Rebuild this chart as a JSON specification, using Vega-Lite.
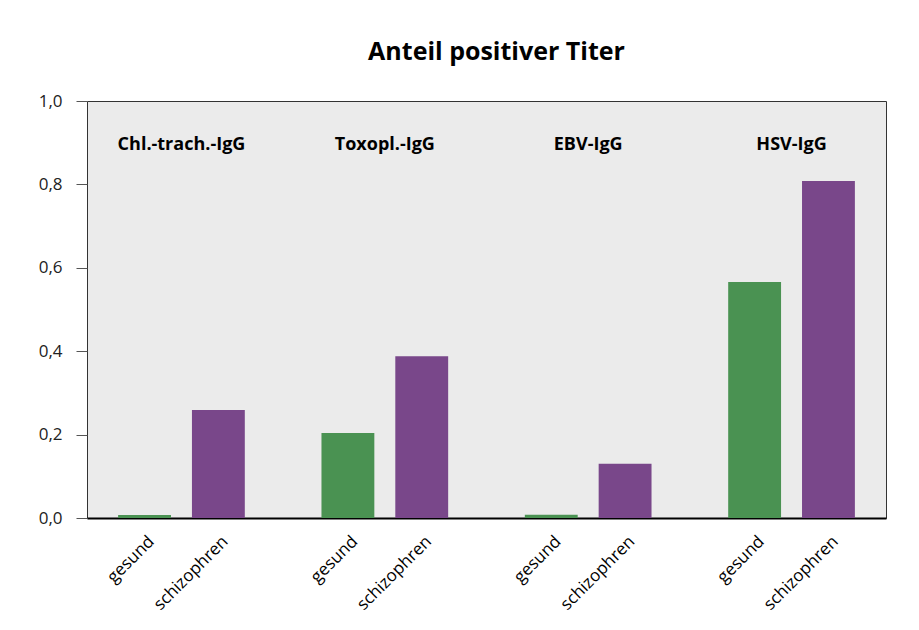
{
  "$schema": "https://vega.github.io/schema/vega-lite/v6.json",
  "width": 799,
  "height": 417,
  "autosize": {"type": "none"},
  "padding": {"left": 87, "top": 101, "right": 33, "bottom": 112},
  "background": "white",
  "title": {
    "text": "Anteil positiver Titer",
    "font": "Open Sans",
    "fontSize": 25,
    "fontWeight": "bold",
    "color": "black",
    "anchor": "middle",
    "offset": 27,
    "dx": 10
  },
  "config": {
    "locale": {"number": {"decimal": ",", "thousands": ".", "grouping": [3], "currency": ["", " €"]}},
    "view": {"fill": "#ebebeb", "stroke": "#333333", "strokeWidth": 1},
    "font": "Open Sans"
  },
  "datasets": {
    "bars": [
      {"group": "Chl.-trach.-IgG", "status": "gesund", "value": 0.007},
      {"group": "Chl.-trach.-IgG", "status": "schizophren", "value": 0.259},
      {"group": "Toxopl.-IgG", "status": "gesund", "value": 0.204},
      {"group": "Toxopl.-IgG", "status": "schizophren", "value": 0.388},
      {"group": "EBV-IgG", "status": "gesund", "value": 0.008},
      {"group": "EBV-IgG", "status": "schizophren", "value": 0.13},
      {"group": "HSV-IgG", "status": "gesund", "value": 0.566},
      {"group": "HSV-IgG", "status": "schizophren", "value": 0.808}
    ],
    "groups": [
      {"group": "Chl.-trach.-IgG"},
      {"group": "Toxopl.-IgG"},
      {"group": "EBV-IgG"},
      {"group": "HSV-IgG"}
    ]
  },
  "encoding": {
    "x": {
      "field": "group",
      "type": "nominal",
      "sort": ["Chl.-trach.-IgG", "Toxopl.-IgG", "EBV-IgG", "HSV-IgG"],
      "scale": {"paddingInner": 0.377, "paddingOuter": 0.153},
      "axis": {"labels": false, "ticks": false, "title": null, "domain": true, "domainColor": "black", "domainWidth": 2}
    }
  },
  "layer": [
    {
      "data": {"name": "bars"},
      "mark": {"type": "bar"},
      "encoding": {
        "xOffset": {"field": "status", "type": "nominal", "sort": ["gesund", "schizophren"], "scale": {"paddingInner": 0.284, "paddingOuter": 0}},
        "y": {
          "field": "value",
          "type": "quantitative",
          "scale": {"domain": [0, 1]},
          "axis": {
            "title": null,
            "grid": false,
            "domain": false,
            "values": [0, 0.2, 0.4, 0.6, 0.8, 1.0],
            "format": ".1f",
            "tickColor": "#555555",
            "tickSize": 11,
            "labelPadding": 14,
            "labelFontSize": 17,
            "labelColor": "#222222",
            "labelFont": "Open Sans"
          }
        },
        "color": {
          "field": "status",
          "type": "nominal",
          "scale": {"domain": ["gesund", "schizophren"], "range": ["#4a9252", "#79478a"]},
          "legend": null
        }
      }
    },
    {
      "data": {"name": "groups"},
      "mark": {"type": "text", "fontWeight": "bold", "fontSize": 18, "font": "Open Sans", "color": "black", "baseline": "middle", "align": "center", "yOffset": 1},
      "encoding": {
        "y": {"datum": 0.897, "type": "quantitative"},
        "text": {"field": "group"}
      }
    },
    {
      "data": {"name": "bars"},
      "mark": {"type": "text", "angle": 315, "align": "right", "baseline": "middle", "fontSize": 17, "font": "Open Sans", "color": "black", "dx": 5, "dy": 5, "yOffset": 21},
      "encoding": {
        "xOffset": {"field": "status", "type": "nominal", "sort": ["gesund", "schizophren"], "scale": {"paddingInner": 0.284, "paddingOuter": 0}},
        "y": {"datum": 0, "type": "quantitative"},
        "text": {"field": "status"}
      }
    }
  ]
}
